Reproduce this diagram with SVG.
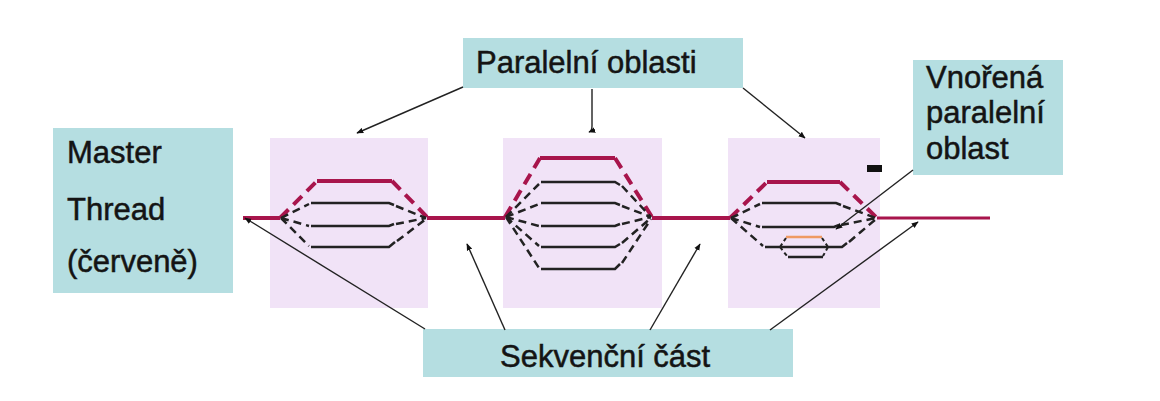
<svg xmlns="http://www.w3.org/2000/svg" width="1160" height="401" viewBox="0 0 1160 401">
<defs>
<marker id="ah" viewBox="0 0 10 10" refX="9" refY="5" markerWidth="7" markerHeight="7" orient="auto" markerUnits="userSpaceOnUse">
<path d="M0,1 L10,5 L0,9 z" fill="#111"/>
</marker>
<style>
.box{fill:#b5dee1;}
.panel{fill:#f1e3f7;}
.t{font-family:"Liberation Sans",Arial,sans-serif;font-size:31px;fill:#141414;stroke:#141414;stroke-width:0.5;}
.red{stroke:#a8154c;stroke-width:4;fill:none;stroke-linecap:butt;}
.redd{stroke:#a8154c;stroke-width:4;fill:none;stroke-dasharray:12 7;}
.blk{stroke:#222;stroke-width:2.5;fill:none;}
.blkd{stroke:#222;stroke-width:2.5;fill:none;stroke-dasharray:8 5;}
.org{stroke:#ef9a62;stroke-width:2.5;fill:none;}
.arr{stroke:#222;stroke-width:1.4;fill:none;marker-end:url(#ah);}
</style>
</defs>
<rect width="1160" height="401" fill="#ffffff"/>

<g id="panels">
<rect class="panel" x="270" y="138" width="158" height="170"/>
<rect class="panel" x="503" y="138" width="159" height="170"/>
<rect class="panel" x="728" y="138" width="152" height="170"/>
</g>

<g id="master-thread">
<rect class="box" x="53" y="128" width="180" height="165"/>
<text class="t" x="67" y="163">Master</text>
<text class="t" x="67" y="220">Thread</text>
<text class="t" x="67" y="272">(červeně)</text>
</g>

<g id="paralelni-oblasti">
<rect class="box" x="463" y="38" width="280" height="50"/>
<text class="t" x="476" y="73">Paralelní oblasti</text>
</g>

<g id="vnorena">
<rect class="box" x="913" y="60" width="150" height="115"/>
<text class="t" x="926" y="88">Vnořená</text>
<text class="t" x="926" y="123">paralelní</text>
<text class="t" x="926" y="159">oblast</text>
</g>

<g id="sekvencni">
<rect class="box" x="423" y="329" width="370" height="48"/>
<text class="t" x="500" y="367">Sekvenční část</text>
</g>

<g id="master-line">
<path class="red" d="M243,218 H280"/>
<path class="red" d="M427,218 H505"/>
<path class="red" d="M652,218 H730"/>
<path class="red" d="M877,218 H990" style="stroke-width:3"/>
</g>

<g id="region1">
<path class="redd" d="M280,218 L317,181"/>
<path class="red" d="M317,181 H392"/>
<path class="redd" d="M392,181 L428,218"/>
<path class="blk" d="M311,203 H389 L394,205"/>
<path class="blk" d="M311,226 H389 L394,224"/>
<path class="blk" d="M311,247 H389 L395,242"/>
<path class="blkd" d="M281,218 L309,204 M281,218 L309,226 M281,218 L309,246"/>
<path class="blkd" d="M396,206 L426,218 M396,224 L426,218 M397,241 L426,219"/>
</g>

<g id="region2">
<path class="redd" d="M505,217 L540,158"/>
<path class="red" d="M540,158 H615"/>
<path class="redd" d="M615,158 L652,217"/>
<path class="blk" d="M541,182 H615 L620,185"/>
<path class="blk" d="M541,203 H615 L620,205"/>
<path class="blk" d="M541,226 H615 L620,224"/>
<path class="blk" d="M541,247 H615 L620,244"/>
<path class="blk" d="M541,269 H615 L620,264"/>
<path class="blkd" d="M506,217 L539,184 M506,217 L539,204 M506,217 L539,226 M506,217 L539,246 M506,217 L539,268"/>
<path class="blkd" d="M622,186 L651,217 M622,206 L651,217 M622,224 L651,217 M622,243 L651,218 M622,263 L651,219"/>
</g>

<g id="region3">
<path class="redd" d="M730,218 L767,182"/>
<path class="red" d="M767,182 H840"/>
<path class="redd" d="M840,182 L877,218"/>
<path class="blk" d="M762,203 H836 L841,205"/>
<path class="blk" d="M762,227 H834 L839,225"/>
<path class="blk" d="M765,247 H842 L847,243"/>
<path class="org" d="M786,237 H822"/>
<path class="blk" d="M788,257 H823"/>
<path class="blkd" d="M731,218 L760,204 M731,218 L760,227 M731,218 L763,246"/>
<path class="blkd" d="M843,206 L876,218 M841,225 L876,218 M849,242 L876,219"/>
<path class="blkd" d="M780,247 L786,238 M780,247 L787,256 M828,247 L822,238 M828,247 L823,256" style="stroke-dasharray:4 3;stroke-width:2"/>
<rect x="867" y="165" width="15" height="7" fill="#111"/>
</g>

<g id="connectors">
<path class="arr" d="M463,87 L357,133"/>
<path class="arr" d="M592,89 L592,126 Q592,131 589,132"/>
<path class="arr" d="M743,88 L805,138"/>
<path class="arr" d="M913,170 L836,229"/>
<path class="arr" d="M425,329 L245,218"/>
<path class="arr" d="M505,330 L467,244"/>
<path class="arr" d="M650,330 L700,244"/>
<path class="arr" d="M770,330 L918,222"/>
</g>
</svg>
